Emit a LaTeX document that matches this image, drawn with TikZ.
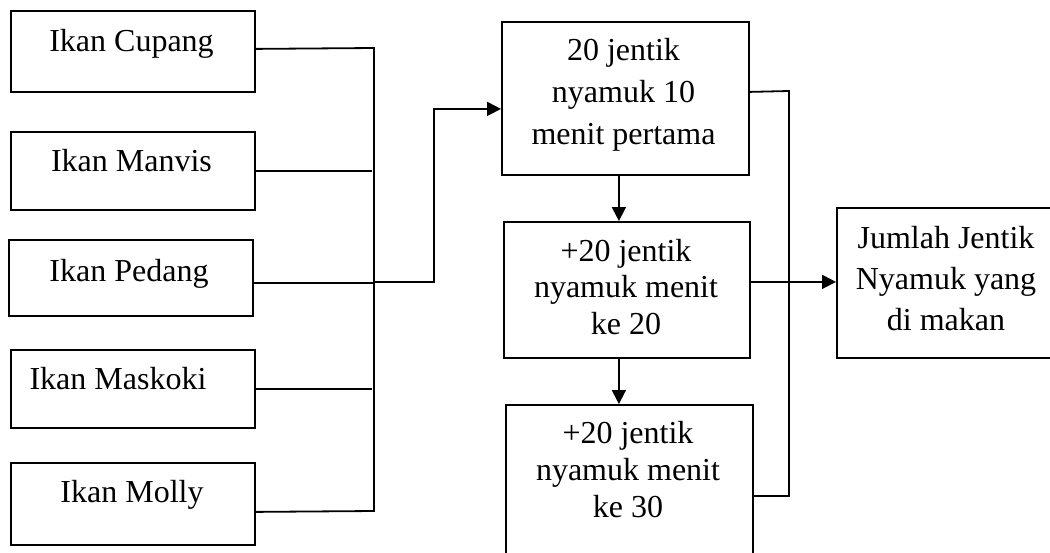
\documentclass[tikz,border=0pt]{standalone}
\usepackage{fontspec}
\setmainfont{Liberation Serif}
\usetikzlibrary{arrows.meta}
\begin{document}
\begin{tikzpicture}[x=1pt,y=-1pt,
  box/.style={draw, line width=1.8pt, inner sep=0pt, anchor=north west},
  txt/.style={anchor=base, inner sep=0pt, font=\fontsize{32}{#1}\selectfont},
  txt/.default=40,
  conn/.style={line width=1.8pt},
  arr/.style={conn, -{Triangle[length=14pt,width=14pt]}}]
\useasboundingbox (0,0) rectangle (1050,552);
\fill[white] (0,0) rectangle (1050,552);

% fish species
\node[box, minimum width=244pt, minimum height=81pt] (cupang)  at (10,10)  {};
\node[box, minimum width=244pt, minimum height=78pt] (manvis)  at (10,131) {};
\node[box, minimum width=244pt, minimum height=76pt] (pedang)  at (8,239)  {};
\node[box, minimum width=244pt, minimum height=78pt] (maskoki) at (10,349) {};
\node[box, minimum width=244pt, minimum height=82pt] (molly)   at (10,462) {};
\node[txt] (tcupang)  at (131.5,51) {Ikan Cupang};
\node[txt] (tmanvis)  at (131.5,171) {Ikan Manvis};
\node[txt] (tpedang)  at (129,281) {Ikan Pedang};
\node[txt] (tmaskoki) at (118,389) {Ikan Maskoki};
\node[txt] (tmolly)   at (132,502) {Ikan Molly};

% feeding steps
\node[box, minimum width=247pt, minimum height=153pt] (A) at (501,21)  {};
\node[box, minimum width=246pt, minimum height=136pt] (B) at (503,221) {};
\node[box, minimum width=247pt, minimum height=152pt] (C) at (505,404) {};
\node[box, minimum width=220pt, minimum height=150pt] (J) at (836,207) {};
\node[txt=42] (tA) at (623.5,60)
  {\begin{tabular}[t]{@{}c@{}}20 jentik\\nyamuk 10\\menit pertama\end{tabular}};
\node[txt=36.5] (tB) at (626,261)
  {\begin{tabular}[t]{@{}c@{}}+20 jentik\\nyamuk menit\\ke 20\end{tabular}};
\node[txt=37] (tC) at (628,443)
  {\begin{tabular}[t]{@{}c@{}}+20 jentik\\nyamuk menit\\ke 30\end{tabular}};
\node[txt=41] (tJ) at (946,248)
  {\begin{tabular}[t]{@{}c@{}}Jumlah Jentik\\Nyamuk yang\\di makan\end{tabular}};

% collecting bus on the left
\coordinate (busTop) at (374,48);
\coordinate (busBot) at (374,511);
\coordinate (join)   at (374,282);
\coordinate (elbow)  at (434,282);
\draw[conn] ([yshift=2.5pt]cupang.east) -- (busTop) -- (busBot) -- ([yshift=-8pt]molly.east);
\draw[conn] (manvis.east) -- ++(116,0);
\draw[conn] ([yshift=-5pt]pedang.east) -- ++(119,0);
\draw[conn] (maskoki.east) -- ++(116,0);
\draw[arr] (join) -- (elbow) |- ([yshift=-10.5pt]A.west);

% steps downwards
\draw[arr] ([xshift=-6.5pt]A.south) -- ([xshift=-6.5pt]A.south |- B.north);
\draw[arr] ([xshift=-8pt]B.south) -- ([xshift=-8pt]B.south |- C.north);

% collecting rail on the right
\coordinate (railTop) at (789,91);
\coordinate (railBot) at (789,496);
\draw[conn] ([yshift=6.5pt]A.east) -- (railTop) -- (railBot) -- (railBot -| C.east);
\draw[arr] ([yshift=8pt]B.east) -- ([yshift=8pt]B.east -| J.west);
\end{tikzpicture}
\end{document}
